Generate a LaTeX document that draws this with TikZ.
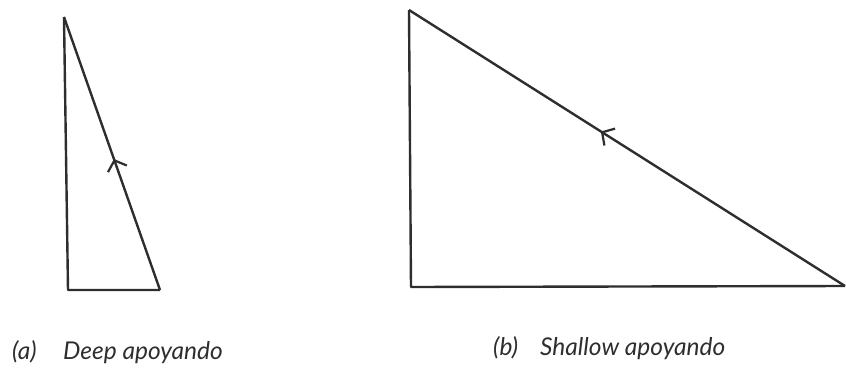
\documentclass[tikz,border=0pt]{standalone}
\usepackage{fontspec}
\setmainfont{Lato}
\usetikzlibrary{arrows.meta,decorations.markings}
\definecolor{ink}{HTML}{2E2E2E}
\tikzset{
  edge/.style={draw=ink, line width=2.4pt, line join=round},
  chevron/.style={edge, postaction={decorate}, decoration={markings,
      mark=at position #1 with {\arrow{Straight Barb[length=9pt,width=20pt,line width=2.2pt]}}}},
  caption/.style={anchor=base west, inner sep=0pt, text=ink, font=\itshape\fontsize{24.5}{28}\selectfont}
}
\begin{document}
\begin{tikzpicture}[x=1pt,y=-1pt]
\useasboundingbox (0,0) rectangle (846,367);
% triangle (a)
\coordinate (aT) at (64,17);
\coordinate (aL) at (68,290);
\coordinate (aR) at (160,290);
\draw[edge] (aR) -- (aL) -- (aT);
\draw[chevron=0.48] (aR) -- (aT);
% triangle (b)
\coordinate (bT) at (409,10);
\coordinate (bL) at (411,287);
\coordinate (bR) at (845,286);
\draw[edge] (bR) -- (bL) -- (bT);
\draw[chevron=0.56] (bR) -- (bT);
% captions
\node[caption] (la) at (12,359) {(a)};
\node[caption] (ta) at (63,359) {Deep apoyando};
\node[caption] (lb) at (493,355) {(b)};
\node[caption] (tb) at (540,355) {Shallow apoyando};
\end{tikzpicture}
\end{document}
